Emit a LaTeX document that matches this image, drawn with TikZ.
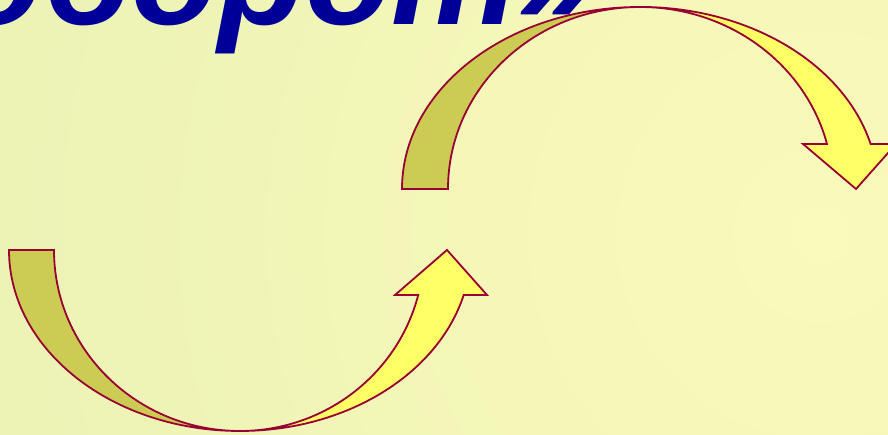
\documentclass[tikz,border=0pt]{standalone}
\usepackage{fontspec}
\setmainfont{Liberation Sans}
\definecolor{bgin}{RGB}{250,250,186}
\definecolor{bgout}{RGB}{220,235,176}
\definecolor{edgered}{RGB}{153,0,51}
\definecolor{olivefill}{RGB}{204,204,85}
\definecolor{yellowfill}{RGB}{255,255,102}
\definecolor{titleblue}{RGB}{0,0,153}
\tikzset{
  arrowline/.style={draw=edgered, line width=1.8pt, line join=miter},
  darkpart/.style={arrowline, fill=olivefill},
  lightpart/.style={arrowline, fill=yellowfill},
  titletext/.style={font=\fontsize{142}{142}\selectfont\bfseries\itshape, text=titleblue, inner sep=0pt}
}
\begin{document}
\begin{tikzpicture}[x=1pt,y=1pt]
\useasboundingbox (0,0) rectangle (888,435);
\clip (0,0) rectangle (888,435);
\shade[inner color=bgin, outer color=bgout] (820,200) circle (1750);
% title (only its lower part is visible)
\node[titletext, anchor=base east] (title) at (597,410.5) {«Кругооборот»};
% bottom arrow (curved up)
\draw[lightpart] (240,4) arc[start angle=270, end angle=345.6, x radius=184, y radius=181]
  -- (395,140) -- (447,185) -- (487,140) -- (463.7,140)
  arc[start angle=345.6, end angle=270, x radius=231, y radius=181] -- cycle;
\draw[darkpart] (9,185) -- (54,185)
  arc[start angle=180, end angle=270, x radius=186, y radius=181]
  arc[start angle=270, end angle=180, x radius=231, y radius=181] -- cycle;
% top arrow (curved down)
\draw[lightpart] (640,428) arc[start angle=90, end angle=14.3, x radius=193, y radius=182]
  -- (803,291) -- (856,246) -- (896,291) -- (870.6,291)
  arc[start angle=14.3, end angle=90, x radius=238, y radius=182] -- cycle;
\draw[darkpart] (402,246) -- (448,246)
  arc[start angle=180, end angle=90, x radius=192, y radius=182]
  arc[start angle=90, end angle=180, x radius=238, y radius=182] -- cycle;
\end{tikzpicture}
\end{document}
